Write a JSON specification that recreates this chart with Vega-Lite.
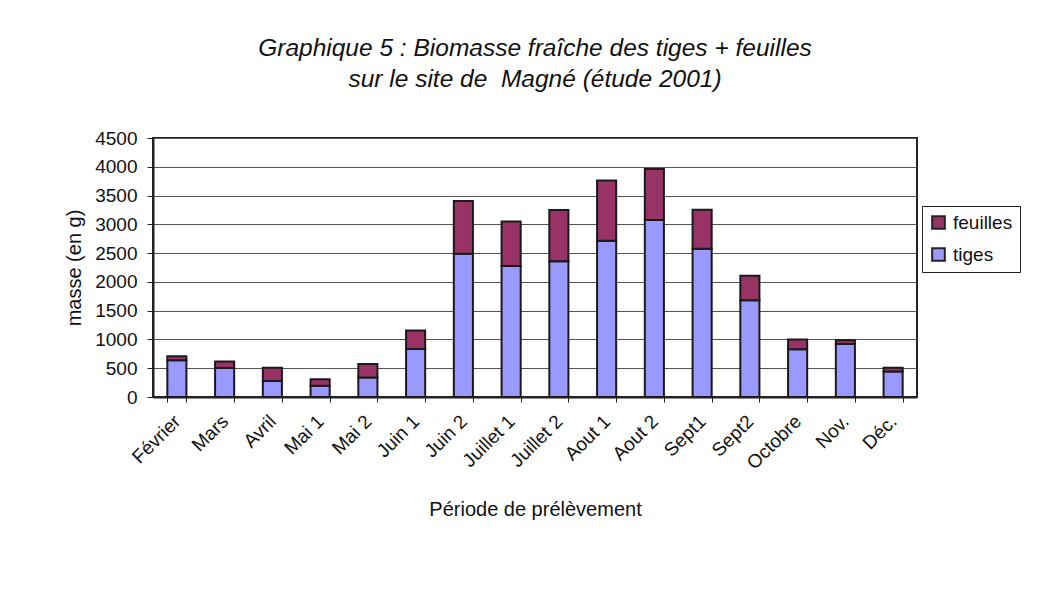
{
  "$schema": "https://vega.github.io/schema/vega-lite/v6.json",
  "autosize": "none",
  "width": 764,
  "height": 259,
  "padding": {"left": 153, "top": 138, "right": 133, "bottom": 192},
  "background": "white",
  "title": {
    "text": ["Graphique 5 : Biomasse fraîche des tiges + feuilles", "sur le site de\u00a0 Magné (étude 2001)"],
    "font": "Liberation Sans",
    "fontSize": 24.5,
    "fontStyle": "italic",
    "fontWeight": "normal",
    "lineHeight": 31,
    "offset": 37,
    "anchor": "middle",
    "color": "#111"
  },
  "data": {
    "values": [
      {"periode": "Février", "partie": "tiges", "masse": 640},
      {"periode": "Février", "partie": "feuilles", "masse": 70},
      {"periode": "Mars", "partie": "tiges", "masse": 505},
      {"periode": "Mars", "partie": "feuilles", "masse": 110},
      {"periode": "Avril", "partie": "tiges", "masse": 280},
      {"periode": "Avril", "partie": "feuilles", "masse": 230},
      {"periode": "Mai 1", "partie": "tiges", "masse": 195},
      {"periode": "Mai 1", "partie": "feuilles", "masse": 115},
      {"periode": "Mai 2", "partie": "tiges", "masse": 340},
      {"periode": "Mai 2", "partie": "feuilles", "masse": 235},
      {"periode": "Juin 1", "partie": "tiges", "masse": 835},
      {"periode": "Juin 1", "partie": "feuilles", "masse": 320},
      {"periode": "Juin 2", "partie": "tiges", "masse": 2490},
      {"periode": "Juin 2", "partie": "feuilles", "masse": 915},
      {"periode": "Juillet 1", "partie": "tiges", "masse": 2275},
      {"periode": "Juillet 1", "partie": "feuilles", "masse": 775},
      {"periode": "Juillet 2", "partie": "tiges", "masse": 2360},
      {"periode": "Juillet 2", "partie": "feuilles", "masse": 890},
      {"periode": "Aout 1", "partie": "tiges", "masse": 2715},
      {"periode": "Aout 1", "partie": "feuilles", "masse": 1045},
      {"periode": "Aout 2", "partie": "tiges", "masse": 3075},
      {"periode": "Aout 2", "partie": "feuilles", "masse": 885},
      {"periode": "Sept1", "partie": "tiges", "masse": 2575},
      {"periode": "Sept1", "partie": "feuilles", "masse": 680},
      {"periode": "Sept2", "partie": "tiges", "masse": 1680},
      {"periode": "Sept2", "partie": "feuilles", "masse": 425},
      {"periode": "Octobre", "partie": "tiges", "masse": 830},
      {"periode": "Octobre", "partie": "feuilles", "masse": 170},
      {"periode": "Nov.", "partie": "tiges", "masse": 920},
      {"periode": "Nov.", "partie": "feuilles", "masse": 65},
      {"periode": "Déc.", "partie": "tiges", "masse": 445},
      {"periode": "Déc.", "partie": "feuilles", "masse": 65}
    ]
  },
  "mark": {"type": "bar", "stroke": "#1a1a1a", "strokeWidth": 2},
  "encoding": {
    "x": {
      "field": "periode",
      "type": "nominal",
      "sort": null,
      "scale": {"paddingInner": 0.6, "paddingOuter": 0.3},
      "axis": {
        "title": "Période de prélèvement",
        "labelAngle": -45,
        "labelAlign": "right",
        "labelBaseline": "middle",
        "tickBand": "extent",
        "labelFont": "Liberation Sans",
        "labelFontSize": 19,
        "labelColor": "#111",
        "labelPadding": 16,
        "tickColor": "#222",
        "tickSize": 5,
        "domainColor": "#222",
        "domainWidth": 2,
        "grid": false,
        "titleFont": "Liberation Sans",
        "titleFontSize": 20,
        "titleFontWeight": "normal",
        "titleColor": "#111",
        "titlePadding": 27
      }
    },
    "y": {
      "field": "masse",
      "type": "quantitative",
      "stack": "zero",
      "scale": {"domain": [0, 4500], "nice": false},
      "axis": {
        "title": "masse (en g)",
        "values": [0, 500, 1000, 1500, 2000, 2500, 3000, 3500, 4000, 4500],
        "format": "d",
        "labelFont": "Liberation Sans",
        "labelFontSize": 19,
        "labelColor": "#111",
        "labelPadding": 10,
        "tickSize": 6,
        "tickColor": "#222",
        "domainColor": "#222",
        "domainWidth": 2,
        "grid": true,
        "gridColor": "#555",
        "gridWidth": 1.2,
        "titleFont": "Liberation Sans",
        "titleFontSize": 20,
        "titleFontWeight": "normal",
        "titleColor": "#111",
        "titlePadding": 10
      }
    },
    "color": {
      "field": "partie",
      "type": "nominal",
      "scale": {"domain": ["feuilles", "tiges"], "range": ["#993366", "#9999FF"]},
      "legend": {
        "title": null,
        "orient": "none",
        "legendX": 769,
        "legendY": 68,
        "padding": 7,
        "strokeColor": "#222",
        "fillColor": "white",
        "symbolType": "square",
        "symbolSize": 160,
        "symbolStrokeColor": "#222",
        "symbolStrokeWidth": 2,
        "symbolOpacity": 1,
        "labelOffset": 5,
        "labelFont": "Liberation Sans",
        "labelFontSize": 19,
        "labelColor": "#111",
        "rowPadding": 11
      }
    },
    "order": {"field": "partie", "sort": "descending"}
  },
  "config": {
    "view": {"stroke": "#222", "strokeWidth": 2},
    "font": "Liberation Sans"
  }
}
